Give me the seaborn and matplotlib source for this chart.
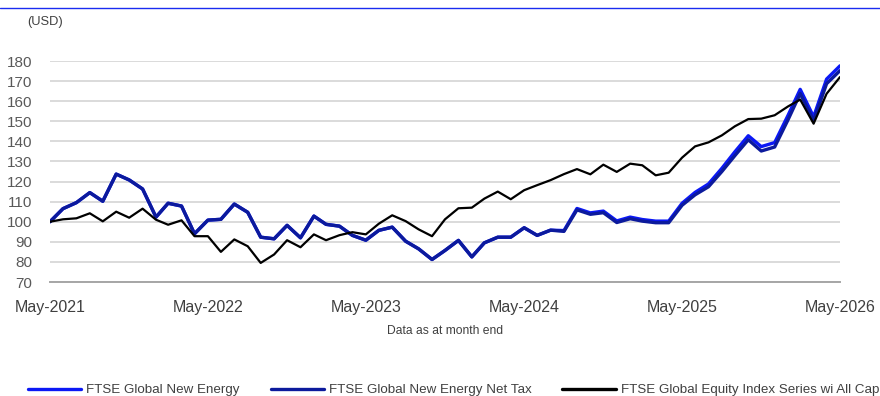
import matplotlib
matplotlib.use("Agg")
import matplotlib.pyplot as plt
from matplotlib.lines import Line2D
import pandas as pd
import seaborn as sns

# Month-end observations, May-2021 .. May-2026
months = pd.date_range("2021-05-31", "2026-05-31", freq="ME")

new_energy = [
    100, 106.5, 109.5, 114.5, 110.2, 123.7, 120.8, 116.3, 102.3, 109.2,
    107.8, 94.0, 100.8, 101.2, 108.8, 104.7, 92.3, 91.5, 98.2, 92.0,
    102.8, 98.7, 97.8, 93.2, 90.8, 95.7, 97.3, 90.3, 86.5, 81.2,
    85.7, 90.7, 82.5, 89.5, 92.3, 92.3, 97.0, 93.2, 95.8, 95.6,
    106.6, 104.4, 105.3, 100.4, 102.3, 101.1, 100.3, 100.3, 109.2, 114.6,
    118.8, 126.6, 134.8, 142.8, 137.4, 139.4, 153.0, 165.9, 152.2, 171.0,
    177.6,
]
new_energy_net_tax = [
    100, 106.5, 109.5, 114.5, 110.2, 123.7, 120.8, 116.3, 102.3, 109.2,
    107.8, 94.0, 100.8, 101.2, 108.8, 104.7, 92.3, 91.5, 98.2, 92.0,
    102.8, 98.7, 97.8, 93.2, 90.8, 95.7, 97.3, 90.3, 86.5, 81.2,
    85.7, 90.7, 82.5, 89.5, 92.3, 92.3, 97.0, 93.2, 95.8, 95.2,
    105.9, 103.7, 104.5, 99.6, 101.5, 100.3, 99.5, 99.5, 108.2, 113.4,
    117.4, 125.0, 132.9, 140.8, 135.2, 137.2, 150.8, 163.8, 150.3, 168.7,
    175.2,
]
all_cap = [
    100, 101.2, 101.7, 104.2, 100.2, 105.0, 102.0, 106.5, 101.0, 98.5,
    100.7, 92.8, 92.8, 85.0, 91.2, 87.8, 79.5, 83.7, 90.8, 87.3,
    93.7, 90.8, 93.3, 94.8, 93.7, 99.0, 103.2, 100.3, 96.2, 92.8,
    101.2, 106.7, 107.0, 111.5, 115.0, 111.2, 115.7, 118.2, 120.7, 123.7,
    126.2, 123.6, 128.4, 124.8, 128.9, 128.1, 123.1, 124.4, 131.9, 137.5,
    139.5, 143.0, 147.5, 151.1, 151.3, 153.0, 157.4, 160.8, 148.8, 163.7,
    172.0,
]

series_names = [
    "FTSE Global New Energy",
    "FTSE Global New Energy Net Tax",
    "FTSE Global Equity Index Series wi All Cap",
]
series_colors = ["#0b18f5", "#0c1a9c", "#000000"]
series_widths = [2.4, 2.4, 1.6]

y_ticks = [70, 80, 90, 100, 110, 120, 130, 140, 150, 160, 170, 180]
x_tick_labels = ["May-2021", "May-2022", "May-2023", "May-2024", "May-2025", "May-2026"]

df = pd.DataFrame({"date": months})
df[series_names[0]] = new_energy
df[series_names[1]] = new_energy_net_tax
df[series_names[2]] = all_cap
long = df.melt(id_vars="date", var_name="series", value_name="value")

sns.set_theme(style="white")
plt.rcParams["font.family"] = ["Liberation Sans", "DejaVu Sans"]

fig = plt.figure(figsize=(8.8, 3.96), dpi=100)
ax = fig.add_axes([50 / 880, (396 - 282) / 396, 790 / 880, 221 / 396])

ax.set_yticks(y_ticks)
ax.yaxis.grid(True, color="#dadada", linewidth=1.4)
ax.set_axisbelow(True)

for name, col, lw in zip(series_names, series_colors, series_widths):
    sub = long[long["series"] == name]
    sns.lineplot(data=sub, x="date", y="value", color=col, linewidth=lw,
                 ax=ax, legend=False)

ax.set_xlim(months[0], months[-1])
ax.set_ylim(70, 180)
tick_dates = [d for d in months if d.month == 5]
ax.set_xticks(tick_dates)
ax.set_xticklabels(x_tick_labels)
ax.set_xlabel("")
ax.set_ylabel("")

for s in ["left", "right", "top"]:
    ax.spines[s].set_visible(False)
ax.spines["bottom"].set_color("#a6a6a6")
ax.spines["bottom"].set_linewidth(1.4)
ax.tick_params(axis="x", direction="out", length=4, width=1.2, color="#a6a6a6",
               labelsize=11.5, labelcolor="#404040", pad=9)
ax.tick_params(axis="y", length=0, labelsize=11, labelcolor="#595959", pad=13)

# header rule and unit label
fig.add_artist(Line2D([0, 1], [1 - 8 / 396, 1 - 8 / 396], color="#1a2cf0",
                      linewidth=1.0, transform=fig.transFigure))
fig.text(27 / 880, 1 - 22 / 396, "(USD)", fontsize=9.3, color="#404040",
         va="center", ha="left")
fig.text(445 / 880, 1 - 331 / 396, "Data as at month end", fontsize=8.7,
         color="#404040", va="center", ha="center")

handles = [Line2D([], [], color=c, linewidth=2.4) for c in series_colors]
fig.legend(handles, series_names, loc="center left",
           bbox_to_anchor=(28 / 880, 1 - 390 / 396), ncol=3, frameon=False,
           fontsize=9.6, handlelength=4.0, handletextpad=0.38, columnspacing=2.3,
           labelcolor="#404040", borderaxespad=0, borderpad=0)

fig.savefig("out.png", dpi=100)
